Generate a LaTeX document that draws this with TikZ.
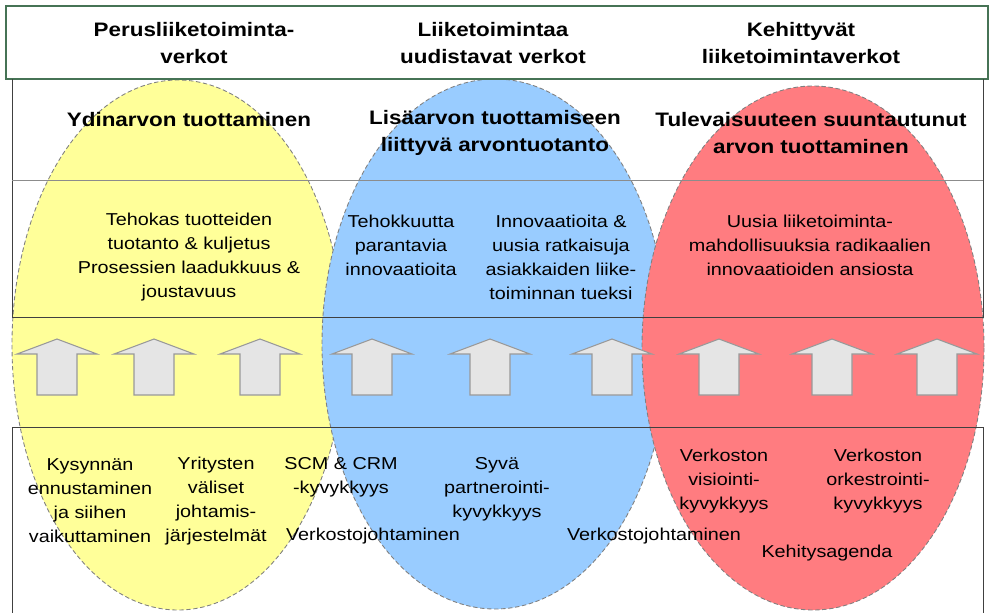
\documentclass[tikz,border=0pt]{standalone}
\usepackage{fontspec}
\setmainfont{Liberation Sans}[FakeStretch=1.15]

\definecolor{ovalyellow}{RGB}{255,255,153}
\definecolor{ovalblue}{RGB}{153,204,255}
\definecolor{ovalred}{RGB}{255,124,128}
\definecolor{boxgreen}{RGB}{70,115,85}

\begin{document}
\begin{tikzpicture}[x=0.02cm, y=-0.02cm,
    oval/.style = {draw=black!50, dash pattern=on 2.5pt off 1.5pt, line width=0.5pt},
    head/.style = {align=center, inner sep=0pt, font=\fontsize{11.1}{15.1}\selectfont\bfseries},
    txt/.style = {align=center, inner sep=0pt, font=\fontsize{9.8}{13.7}\selectfont},
    uparrow/.style = {draw=black!40, fill=black!10, line width=0.6pt}]
    \useasboundingbox (0,0) rectangle (993,612);

    % the three network types
    \fill[ovalyellow] (178,345) ellipse [x radius=166, y radius=265];
    \draw[oval] (178,345) ellipse [x radius=166, y radius=265];
    \fill[ovalblue] (495,344) ellipse [x radius=173, y radius=265];
    \draw[oval] (495,344) ellipse [x radius=173, y radius=265];
    \fill[ovalred] (813,348) ellipse [x radius=171, y radius=262];
    \draw[oval] (813,348) ellipse [x radius=171, y radius=262];

    % frames
    \draw[boxgreen, line width=0.8pt] (6,6) rectangle (988,79);
    \draw[black!75] (12,79) -- (12,317) -- (983,317) -- (983,79);
    \draw[black!45] (12,180) -- (983,180);
    \draw[black!75] (12,614) -- (12,427) -- (983,427) -- (983,614);

    % arrows
    \foreach \ax in {57,154,260,372,490,612,719,832,937}
        \draw[uparrow] (\ax-20,395) -- (\ax-20,354) -- (\ax-40,354) -- (\ax,339)
            -- (\ax+40,354) -- (\ax+20,354) -- (\ax+20,395) -- cycle;

    % headings
    \node[head] (netA) at (194,43) {Perusliiketoiminta-\\verkot};
    \node[head] (netB) at (493,43) {Liiketoimintaa\\uudistavat verkot};
    \node[head] (netC) at (801,43) {Kehittyvät\\liiketoimintaverkot};

    \node[head] (valA) at (189,120) {Ydinarvon tuottaminen};
    \node[head] (valB) at (495,133) {Lisäarvon tuottamiseen\\liittyvä arvontuotanto};
    \node[head] (valC) at (811,133) {Tulevaisuuteen suuntautunut\\arvon tuottaminen};

    % benefits
    \node[txt] (benA) at (189,257) {Tehokas tuotteiden\\tuotanto \& kuljetus\\Prosessien laadukkuus \&\\joustavuus};
    \node[txt] (benB1) at (401,245) {Tehokkuutta\\parantavia\\innovaatioita};
    \node[txt] (benB2) at (561,257) {Innovaatioita \&\\uusia ratkaisuja\\asiakkaiden liike-\\toiminnan tueksi};
    \node[txt] (benC) at (810,245) {Uusia liiketoiminta-\\mahdollisuuksia radikaalien\\innovaatioiden ansiosta};

    % capabilities
    \node[txt] (capA1) at (90,501) {Kysynnän\\ennustaminen\\ja siihen\\vaikuttaminen};
    \node[txt] (capA2) at (216,501) {Yritysten\\väliset\\johtamis-\\järjestelmät};
    \node[txt] (capB1) at (341,477) {SCM \& CRM\\-kyvykkyys};
    \node[txt] (capB2) at (373,536) {Verkostojohtaminen};
    \node[txt] (capB3) at (497,489) {Syvä\\partnerointi-\\kyvykkyys};
    \node[txt] (capC1) at (654,536) {Verkostojohtaminen};
    \node[txt] (capC2) at (724,481) {Verkoston\\visiointi-\\kyvykkyys};
    \node[txt] (capC3) at (878,481) {Verkoston\\orkestrointi-\\kyvykkyys};
    \node[txt] (capC4) at (827,553) {Kehitysagenda};
\end{tikzpicture}
\end{document}
